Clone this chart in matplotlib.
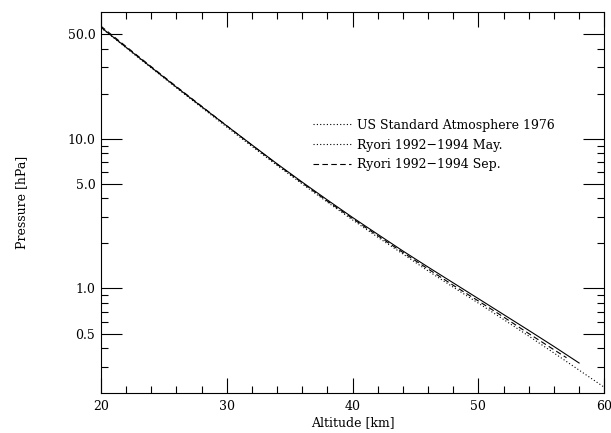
import numpy as np
import matplotlib.pyplot as plt
from matplotlib.lines import Line2D
from matplotlib.ticker import FixedLocator, NullFormatter

# altitude grid [km]
alt_us = [20, 22, 24, 26, 28, 30, 32, 34, 36, 38, 40, 42, 44, 46, 48, 50, 52, 54, 56, 58, 60]
p_us = [55.29, 40.47, 29.72, 21.88, 16.16, 11.97, 8.89, 6.63, 4.99, 3.77, 2.87,
        2.20, 1.70, 1.31, 1.02, 0.798, 0.621, 0.481, 0.371, 0.285, 0.219]

alt_may = [20, 22, 24, 26, 28, 30, 32, 34, 36, 38, 40, 42, 44, 46, 48, 50, 52, 54, 56, 58]
p_may = [55.5, 40.8, 30.0, 22.1, 16.4, 12.2, 9.1, 6.8, 5.13, 3.9, 2.98,
         2.30, 1.78, 1.39, 1.09, 0.855, 0.67, 0.525, 0.41, 0.318]

alt_sep = [20, 22, 24, 26, 28, 30, 32, 34, 36, 38, 40, 42, 44, 46, 48, 50, 52, 54, 56, 57]
p_sep = [56.5, 41.3, 30.3, 22.3, 16.5, 12.2, 9.05, 6.75, 5.07, 3.83, 2.93,
         2.25, 1.74, 1.35, 1.05, 0.825, 0.645, 0.50, 0.39, 0.345]

labels = ['US Standard Atmosphere 1976', 'Ryori 1992\u22121994 May.', 'Ryori 1992\u22121994 Sep.']

plt.rcParams['font.family'] = 'DejaVu Serif'
plt.rcParams['font.size'] = 9

fig = plt.figure(figsize=(6.11, 4.33), dpi=100)
ax = fig.add_axes([0.165, 0.092, 0.824, 0.880])

ax.plot(alt_us, p_us, color='black', lw=0.8, ls=(0, (1, 2)))
ax.plot(alt_may, p_may, color='black', lw=0.8, ls='-')
ax.plot(alt_sep, p_sep, color='black', lw=0.8, ls=(0, (5, 3)))

ax.set_yscale('log')
ax.set_xlim(20, 60)
ax.set_ylim(0.2, 70)

ax.yaxis.set_major_locator(FixedLocator([0.5, 1.0, 5.0, 10.0, 50.0]))
ax.set_yticklabels(['0.5', '1.0', '5.0', '10.0', '50.0'])
minor_y = [0.3, 0.4, 0.6, 0.7, 0.8, 0.9, 2, 3, 4, 6, 7, 8, 9, 20, 30, 40]
ax.yaxis.set_minor_locator(FixedLocator(minor_y))
ax.yaxis.set_minor_formatter(NullFormatter())
ax.set_xticks([20, 30, 40, 50, 60])
ax.set_xticks(np.arange(20, 61, 2), minor=True)

ax.tick_params(which='both', direction='in', top=True, right=True, width=0.8)
ax.tick_params(axis='x', which='major', length=11, pad=5)
ax.tick_params(axis='x', which='minor', length=5)
ax.tick_params(axis='y', which='major', length=15, pad=4)
ax.tick_params(axis='y', which='minor', length=5)
for s in ax.spines.values():
    s.set_linewidth(0.8)

ax.set_xlabel('Altitude [km]', labelpad=2)
ax.set_ylabel('Pressure [hPa]', labelpad=28)

handles = [Line2D([], [], color='black', lw=0.8, ls=(0, (1, 2))),
           Line2D([], [], color='black', lw=0.8, ls=(0, (1, 2))),
           Line2D([], [], color='black', lw=0.8, ls=(0, (5, 3)))]
ax.legend(handles, labels, frameon=False, loc='upper left',
          bbox_to_anchor=(0.40, 0.75), handlelength=3.0, handletextpad=0.5,
          labelspacing=0.55, fontsize=9)

fig.savefig('out.png', dpi=100)
